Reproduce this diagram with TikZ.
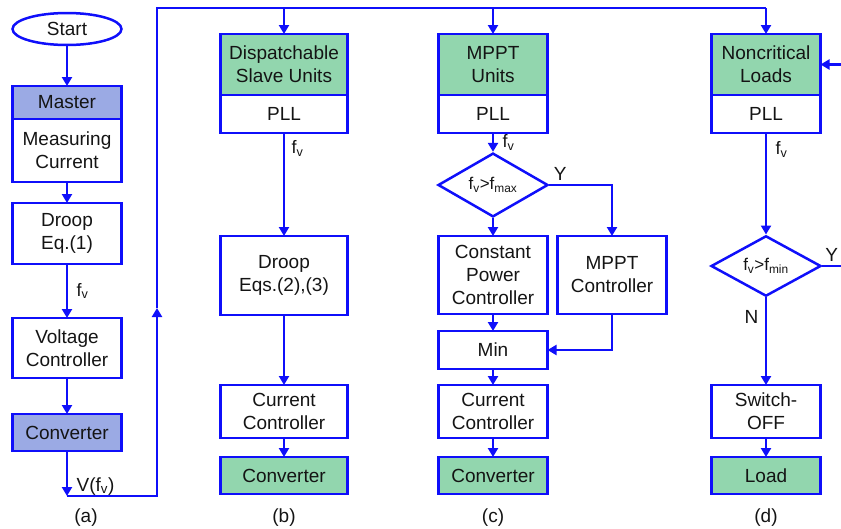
\documentclass[tikz,border=0pt]{standalone}
\usepackage{fontspec}
\setmainfont{Liberation Sans}
\usetikzlibrary{shapes.geometric,arrows.meta,positioning}
\definecolor{lineblue}{RGB}{15,15,250}
\definecolor{unitgreen}{RGB}{146,214,174}
\definecolor{masterblue}{RGB}{155,170,228}
\definecolor{txt}{RGB}{20,20,20}

\begin{document}
\begin{tikzpicture}[x=1pt, y=-1pt, line width=2.5pt, draw=lineblue,
  blk/.style = {draw=lineblue, line width=2.5pt, minimum width=109pt, inner sep=0pt, outer sep=0pt, align=center, text=txt, font=\fontsize{19}{23}\selectfont},
  unit/.style = {blk, fill=unitgreen},
  dec/.style = {diamond, draw=lineblue, line width=2.5pt, minimum width=110pt, minimum height=59pt, inner sep=0pt, text=txt, font=\fontsize{17}{20}\selectfont},
  lbl/.style = {text=txt, font=\fontsize{18}{20}\selectfont},
  captxt/.style = {text=txt, font=\fontsize{19}{21}\selectfont},
  arr/.style = {draw=lineblue, -{Triangle[length=9pt,width=10pt]}}]
\useasboundingbox (0,0) rectangle (841,528);

% (a) master
\node[blk, ellipse, minimum height=32pt] (start) at (67,29) {Start};
\node[blk, fill=masterblue, minimum height=33pt] (master) at (67,102.5) {Master};
\node[blk, minimum height=63pt, below=0pt of master] (meas) {Measuring\\Current};
\node[blk, minimum height=61pt] (droopA) at (67,233.5) {Droop\\Eq.(1)};
\node[blk, minimum height=60pt] (volt) at (67,348) {Voltage\\Controller};
\node[blk, fill=masterblue, minimum height=37pt] (convA) at (67,432.5) {Converter};
\coordinate (vA) at (67,496);
\coordinate (upA) at (157,308);
\coordinate (busB) at (284,8);
\coordinate (busC) at (493,8);
\coordinate (busD) at (766,8);

% (b) dispatchable
\node[unit, minimum width=127pt, minimum height=61pt] (disp) at (284,64.5) {Dispatchable\\Slave Units};
\node[blk, minimum width=127pt, minimum height=38pt, below=0pt of disp] (pllB) {PLL};
\node[blk, minimum width=127pt, minimum height=79pt] (droopB) at (284,275.5) {Droop\\Eqs.(2),(3)};
\node[blk, minimum width=127pt, minimum height=53pt] (curB) at (284,411.5) {Current\\Controller};
\node[unit, minimum width=127pt, minimum height=37pt] (convB) at (284,475.5) {Converter};

% (c) mppt
\node[unit, minimum height=61pt] (mppt) at (493,64.5) {MPPT\\Units};
\node[blk, minimum height=38pt, below=0pt of mppt] (pllC) {PLL};
\node[dec] (decC) at (493,185) {f\textsubscript{v}>f\textsubscript{max}};
\node[blk, minimum height=78pt] (cpc) at (493,275) {Constant\\Power\\Controller};
\node[blk, minimum height=78pt] (mpptc) at (612,275) {MPPT\\Controller};
\node[blk, minimum height=38pt] (minC) at (493,350) {Min};
\node[blk, minimum height=53pt] (curC) at (493,411.5) {Current\\Controller};
\node[unit, minimum height=37pt] (convC) at (493,475.5) {Converter};

% (d) loads
\node[unit, minimum height=61pt] (ncl) at (766,64.5) {Noncritical\\Loads};
\node[blk, minimum height=38pt, below=0pt of ncl] (pllD) {PLL};
\node[dec] (decD) at (766,266) {f\textsubscript{v}>f\textsubscript{min}};
\node[blk, minimum height=53pt] (sw) at (766,411.5) {Switch-\\OFF};
\node[unit, minimum height=37pt] (load) at (766,475.5) {Load};
\coordinate (rin) at (841,64.5);
\coordinate (yout) at (841,266);

% captions
\node[captxt] (capA) at (86,518) {(a)};
\node[captxt] (capB) at (284,518) {(b)};
\node[captxt] (capC) at (493,518) {(c)};
\node[captxt] (capD) at (766,518) {(d)};

% connectors
\draw[arr] (start) -- (master);
\draw[arr] (meas) -- (droopA);
\draw[arr] (droopA) -- node[lbl, right=5pt] {f\textsubscript{v}} (volt);
\draw[arr] (volt) -- (convA);
\draw[arr] (convA) -- node[captxt, right=5pt, pos=0.78] {V(f\textsubscript{v})} (vA);
\draw[arr] (vA) -| (upA);
\draw (upA) |- (busD);
\draw[arr] (busB) -- (disp);
\draw[arr] (busC) -- (mppt);
\draw[arr] (busD) -- (ncl);

\draw[arr] (pllB) -- node[lbl, right=3pt, pos=0.15] {f\textsubscript{v}} (droopB);
\draw[arr] (droopB) -- (curB);
\draw[arr] (curB) -- (convB);

\draw[arr] (pllC) -- node[lbl, right=5pt] {f\textsubscript{v}} (decC);
\draw[arr] (decC) -- (cpc);
\draw[arr] (decC.east) -| node[captxt, above right, pos=0] {Y} (mpptc);
\draw[arr] (cpc) -- (minC);
\draw[arr] (mpptc) |- (minC);
\draw[arr] (minC) -- (curC);
\draw[arr] (curC) -- (convC);

\draw[arr] (rin) -- (ncl);
\draw[arr] (pllD) -- node[lbl, right=5pt, pos=0.16] {f\textsubscript{v}} (decD);
\draw (decD.east) -- node[captxt, above] {Y} (yout);
\draw[arr] (decD) -- node[captxt, left=3pt, pos=0.22] {N} (sw);
\draw[arr] (sw) -- (load);
\end{tikzpicture}
\end{document}
